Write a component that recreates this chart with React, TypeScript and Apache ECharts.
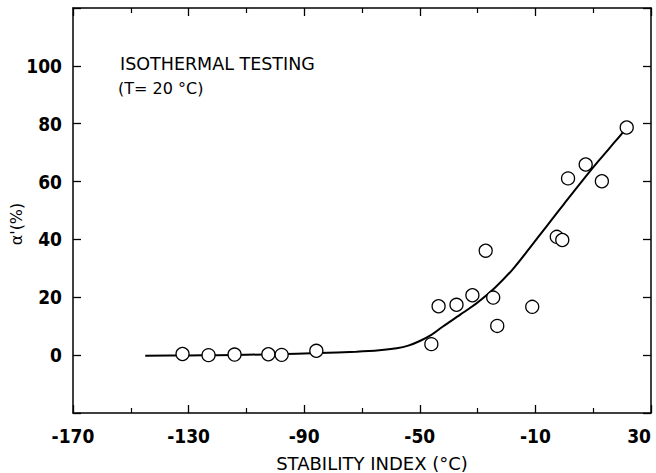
import React, { useEffect, useRef } from "react";
import * as echarts from "echarts";

const pointsX = [-132.1, -123.1, -114.1, -102.4, -97.8, -85.8, -46.0, -43.5, -37.3, -31.8, -27.2, -24.6, -23.2, -11.1, -2.6, -0.7, 1.3, 7.4, 13.0, 21.6];
const pointsY = [0.4, 0.0, 0.2, 0.3, 0.1, 1.5, 3.8, 16.9, 17.4, 20.7, 36.1, 19.9, 10.1, 16.7, 40.9, 39.8, 61.1, 65.9, 60.1, 78.7];

const curveX = [-145, -130, -120, -100, -85, -72, -64, -58, -54, -50, -46, -42, -36, -30, -24, -18, -12, -6, 0, 6, 12, 18, 21.5];
const curveY = [-0.2, -0.1, 0, 0.3, 0.7, 1.2, 1.7, 2.4, 3.3, 4.9, 7.0, 9.9, 14.0, 18.2, 23.3, 29.5, 37.0, 44.7, 52.4, 60.0, 67.3, 74.3, 78.5];

const xTicks = { min: -170, max: 30, interval: 40 };
const yTicks = { min: -20, max: 120, interval: 20 };
const yLabelsShown = [0, 20, 40, 60, 80, 100];

const NUM_FONT = "'DejaVu Sans Condensed', 'DejaVu Sans', sans-serif";
const TXT_FONT = "'DejaVu Sans', sans-serif";

export default function App() {
  const ref = useRef<HTMLDivElement>(null);
  useEffect(() => {
    if (!ref.current) return;
    const chart = echarts.init(ref.current, null, { renderer: "svg" });
    const axisLine = { show: true, onZero: false, lineStyle: { color: "#000", width: 1.5 } };
    const tick = { show: true, inside: true, length: 8, lineStyle: { color: "#000", width: 1.3 } };
    const minor = { show: true, splitNumber: 2, length: 5, lineStyle: { color: "#000", width: 1.2 } };
    chart.setOption({
      animation: false,
      backgroundColor: "#fff",
      grid: { left: 73, right: 5, top: 8, bottom: 60, containLabel: false, outerBoundsMode: "none" },
      xAxis: [
        {
          type: "value",
          ...xTicks,
          position: "bottom",
          axisLine,
          axisTick: tick,
          minorTick: minor,
          splitLine: { show: false },
          axisLabel: {
            color: "#000",
            fontSize: 19,
            fontWeight: "bold",
            fontFamily: NUM_FONT,
            margin: 13,
            hideOverlap: false,
            alignMaxLabel: "right",
            formatter: (v: number) => String(v),
          },
        },
        {
          type: "value",
          ...xTicks,
          position: "top",
          axisLine,
          axisTick: tick,
          minorTick: minor,
          splitLine: { show: false },
          axisLabel: { show: false },
        },
      ],
      yAxis: [
        {
          type: "value",
          ...yTicks,
          position: "left",
          axisLine,
          axisTick: tick,
          splitLine: { show: false },
          axisLabel: {
            color: "#000",
            fontSize: 19,
            fontWeight: "bold",
            fontFamily: NUM_FONT,
            margin: 11,
            formatter: (v: number) => (yLabelsShown.includes(v) ? String(v) : ""),
          },
        },
        {
          type: "value",
          ...yTicks,
          position: "right",
          axisLine,
          axisTick: tick,
          splitLine: { show: false },
          axisLabel: { show: false },
        },
      ],
      graphic: [
        {
          type: "text",
          left: 120,
          top: 55,
          style: { text: "ISOTHERMAL TESTING", fill: "#000", font: `17.5px ${TXT_FONT}` },
        },
        {
          type: "text",
          left: 118,
          top: 80,
          style: { text: "(T= 20 °C)", fill: "#000", font: `16px ${TXT_FONT}` },
        },
        {
          type: "text",
          x: 372,
          y: 463,
          style: {
            text: "STABILITY INDEX (°C)",
            fill: "#000",
            font: `18px ${TXT_FONT}`,
            align: "center",
            verticalAlign: "middle",
          },
        },
        {
          type: "text",
          x: 16,
          y: 224,
          rotation: Math.PI / 2,
          style: {
            text: "α'(%)",
            fill: "#000",
            font: `16px ${TXT_FONT}`,
            align: "center",
            verticalAlign: "middle",
          },
        },
      ],
      series: [
        {
          type: "line",
          data: curveX.map((x, i) => [x, curveY[i]]),
          showSymbol: false,
          smooth: 0.3,
          lineStyle: { color: "#000", width: 2 },
          z: 2,
        },
        {
          type: "scatter",
          data: pointsX.map((x, i) => [x, pointsY[i]]),
          symbol: "circle",
          symbolSize: 13,
          itemStyle: { color: "#fff", borderColor: "#000", borderWidth: 1.3, opacity: 1 },
          z: 3,
        },
      ],
    });
    return () => chart.dispose();
  }, []);
  return <div ref={ref} style={{ width: 656, height: 473, position: "absolute", left: 0, top: 0 }} />;
}
